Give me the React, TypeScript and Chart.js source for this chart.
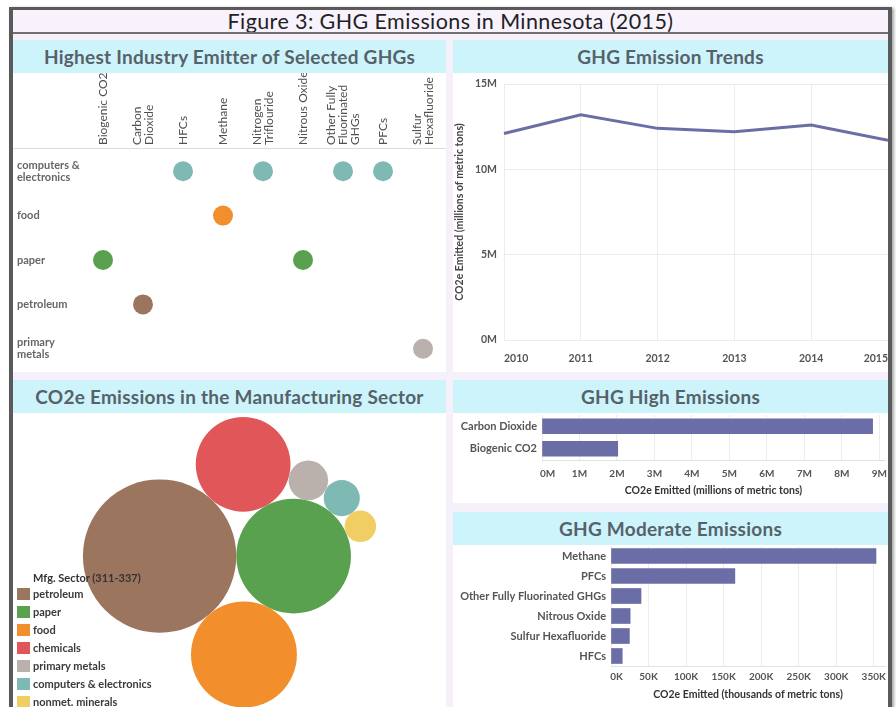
import React, { useEffect, useRef } from 'react';
import { Chart, registerables } from 'chart.js';

Chart.register(...registerables);

const FONT = 'Lato, "DejaVu Sans", sans-serif';
Chart.defaults.font.family = FONT;

// ---------- Panel 1: highest industry emitter per GHG ----------
const ghgNames = [
  'Biogenic CO2', 'Carbon Dioxide', 'HFCs', 'Methane', 'Nitrogen Triflouride',
  'Nitrous Oxide', 'Other Fully Fluorinated GHGs', 'PFCs', 'Sulfur Hexafluoride',
];
const ghgTickLines = [
  ['Biogenic CO2'], ['Carbon', 'Dioxide'], ['HFCs'], ['Methane'], ['Nitrogen', 'Triflouride'],
  ['Nitrous Oxide'], ['Other Fully', 'Fluorinated', 'GHGs'], ['PFCs'], ['Sulfur', 'Hexafluoride'],
];
const sectorRows = ['computers & electronics', 'food', 'paper', 'petroleum', 'primary metals'];
const sectorRowLines = [['computers &', 'electronics'], ['food'], ['paper'], ['petroleum'], ['primary', 'metals']];
const topEmitterSector = [
  'paper', 'petroleum', 'computers & electronics', 'food', 'computers & electronics',
  'paper', 'computers & electronics', 'computers & electronics', 'primary metals',
];

// ---------- Panel 3: manufacturing sectors (millions of metric tons CO2e) ----------
const sectorNames = ['petroleum', 'paper', 'food', 'chemicals', 'primary metals', 'computers & electronics', 'nonmet. minerals'];
const sectorColors = ['#9c755f', '#59a14f', '#f28e2b', '#e15759', '#bab0ac', '#7fb9b4', '#f1ce63'];
const sectorCO2e = [4.51, 2.52, 2.15, 1.72, 0.3, 0.25, 0.19];
// packing chain: [tangentTo, tangentTo, side] for sectors 3..7
const packOrder = [[0, 1, 1], [0, 1, -1], [3, 1, -1], [4, 1, -1], [5, 1, -1]];

// ---------- Panel 2: trend (millions of metric tons) ----------
const trendYears = ['2010', '2011', '2012', '2013', '2014', '2015'];
const trendValues = [12.1, 13.2, 12.4, 12.2, 12.6, 11.7];

// ---------- Panel 4: high emissions (millions) ----------
const highGases = ['Carbon Dioxide', 'Biogenic CO2'];
const highValues = [8.82, 2.02];

// ---------- Panel 5: moderate emissions (thousands) ----------
const moderateGases = ['Methane', 'PFCs', 'Other Fully Fluorinated GHGs', 'Nitrous Oxide', 'Sulfur Hexafluoride', 'HFCs'];
const moderateValues = [353, 165, 40, 25.5, 24.5, 15];

const BAR = '#6b6ea6';
const GRID = '#ececec';
const TICK = '#555';

function colorOfSector(s: string) {
  return sectorColors[sectorNames.indexOf(s)];
}

function packSectors(values: number[]) {
  const r = values.map((v) => Math.sqrt(v));
  const c: { x: number; y: number }[] = [];
  c[0] = { x: 0, y: 0 };
  c[1] = { x: r[0] + r[1], y: 0 };
  packOrder.forEach(([a, b, side], k) => {
    const i = k + 2;
    const dx = c[b].x - c[a].x;
    const dy = c[b].y - c[a].y;
    const d = Math.hypot(dx, dy);
    const da = r[a] + r[i];
    const db = r[b] + r[i];
    const t = (da * da - db * db + d * d) / (2 * d);
    const h = Math.sqrt(Math.max(0, da * da - t * t));
    c[i] = {
      x: c[a].x + (t * dx) / d + (side * h * -dy) / d,
      y: c[a].y + (t * dy) / d + (side * h * dx) / d,
    };
  });
  return { r, c };
}

const fitW = (w: number) => (s: any) => {
  s.width = w;
  s.paddingTop = 0; s.paddingBottom = 0; s.paddingLeft = 0; s.paddingRight = 0;
};
const fitH = (h: number) => (s: any) => {
  s.height = h;
  s.paddingTop = 0; s.paddingBottom = 0; s.paddingLeft = 0; s.paddingRight = 0;
};

function ChartBox(props: { left: number; top: number; width: number; height: number; make: () => any }) {
  const ref = useRef<HTMLCanvasElement>(null);
  useEffect(() => {
    const chart = new Chart(ref.current as HTMLCanvasElement, props.make());
    return () => chart.destroy();
  }, []);
  return (
    <canvas
      ref={ref}
      width={props.width}
      height={props.height}
      style={{ position: 'absolute', left: props.left, top: props.top, width: props.width, height: props.height }}
    />
  );
}

const baseOpts = {
  animation: false,
  responsive: false,
  maintainAspectRatio: false,
  events: [],
  plugins: { legend: { display: false }, tooltip: { enabled: false } },
};

// rotated column headers of the GHG matrix, centred on each category tick
const columnHeaderPlugin = {
  id: 'columnHeaders',
  afterDraw(chart: any) {
    const xs = chart.scales.x;
    const ctx = chart.ctx;
    const base = chart.chartArea.top - 4;
    const lh = 12;
    ctx.save();
    ctx.font = `12px ${FONT}`;
    ctx.fillStyle = '#505050';
    ctx.textAlign = 'left';
    ctx.textBaseline = 'middle';
    ghgTickLines.forEach((lines, i) => {
      const px = xs.getPixelForValue(i);
      lines.forEach((t, j) => {
        const off = (j - (lines.length - 1) / 2) * lh;
        ctx.save();
        ctx.translate(px + off, base);
        ctx.rotate(-Math.PI / 2);
        ctx.fillText(t, 0, 0);
        ctx.restore();
      });
    });
    ctx.restore();
  },
};

function dotConfig() {
  return {
    type: 'scatter',
    data: {
      datasets: [
        {
          data: ghgNames.map((g, i) => ({ x: g, y: topEmitterSector[i] })),
          pointRadius: 10,
          pointHoverRadius: 10,
          borderWidth: 0,
          backgroundColor: topEmitterSector.map(colorOfSector),
          clip: false,
        },
      ],
    },
    plugins: [columnHeaderPlugin],
    options: {
      ...baseOpts,
      layout: { autoPadding: false, padding: { left: 4, right: 3, top: 76, bottom: 1 } },
      scales: {
        x: {
          type: 'category',
          labels: ghgNames,
          display: false,
          offset: true,
        },
        y: {
          type: 'category',
          labels: sectorRows,
          offset: true,
          grid: { display: false, drawTicks: false },
          border: { display: false },
          ticks: {
            crossAlign: 'far',
            color: '#666',
            font: { size: 11, weight: 'bold', lineHeight: 1.1 },
            callback: (_v: any, i: number) => sectorRowLines[i],
          },
          afterFit: fitW(66),
        },
      },
    },
  };
}

function trendConfig() {
  return {
    type: 'line',
    data: {
      labels: trendYears,
      datasets: [{ data: trendValues, borderColor: BAR, borderWidth: 3, pointRadius: 0, tension: 0, fill: false, clip: false }],
    },
    options: {
      ...baseOpts,
      layout: { autoPadding: false, padding: { top: 11, right: 0, left: 0, bottom: 0 } },
      scales: {
        x: {
          offset: false,
          grid: { color: GRID, drawTicks: false },
          border: { display: false },
          ticks: { align: 'inner', padding: 12, color: TICK, font: { size: 10.5, weight: 'bold' } },
          afterFit: fitH(32),
        },
        y: {
          min: 0,
          max: 15,
          grid: { color: GRID, drawTicks: false },
          border: { display: false },
          ticks: { stepSize: 5, padding: 7, color: TICK, font: { size: 10.5, weight: 'bold' }, callback: (v: any) => v + 'M' },
          title: {
            display: true,
            text: 'CO2e Emitted (millions of metric tons)',
            color: '#444',
            font: { size: 10.5, weight: 'bold' },
            padding: { top: 0, bottom: 0 },
          },
          afterFit: fitW(51),
        },
      },
    },
  };
}

function barConfig(labels: string[], values: number[], max: number, step: number, unit: string, title: string,
  leftW: number, axisH: number, padTop: number, tickPad: number) {
  return {
    type: 'bar',
    data: {
      labels,
      datasets: [{ data: values, backgroundColor: BAR, barThickness: 15 }],
    },
    options: {
      ...baseOpts,
      indexAxis: 'y',
      layout: { autoPadding: false, padding: { top: padTop, right: 3, left: 0, bottom: 0 } },
      scales: {
        x: {
          min: 0,
          max,
          grid: { color: GRID, drawTicks: false },
          border: { color: '#e2e2e2' },
          ticks: {
            stepSize: step,
            includeBounds: false,
            padding: tickPad,
            color: TICK,
            font: { size: 10, weight: 'bold' },
            // first label sits to the right of the zero line
            callback: (v: any) => (v === 0 ? '\u2002\u2002\u2009' : '') + v + unit,
          },
          title: {
            display: true,
            text: title,
            color: '#333',
            font: { size: 10.5, weight: 'bold' },
            padding: { top: 0, bottom: 6 },
          },
          afterFit: fitH(axisH),
        },
        y: {
          grid: { display: false, drawTicks: false },
          border: { display: false },
          ticks: { padding: 5, color: TICK, font: { size: 11, weight: 'bold' } },
          afterFit: fitW(leftW),
        },
      },
    },
  };
}

function bubbleConfig(W: number, H: number) {
  const { r, c } = packSectors(sectorCO2e);
  let minX = Infinity, maxX = -Infinity, minY = Infinity, maxY = -Infinity;
  c.forEach((p, i) => {
    minX = Math.min(minX, p.x - r[i]);
    maxX = Math.max(maxX, p.x + r[i]);
    minY = Math.min(minY, p.y - r[i]);
    maxY = Math.max(maxY, p.y + r[i]);
  });
  const s = (H - 3.5) / (maxY - minY);
  const midX = ((minX + maxX) / 2) * s;
  const yTop = minY * s - 4;
  return {
    type: 'bubble',
    data: {
      datasets: [
        {
          data: c.map((p, i) => ({ x: p.x * s, y: p.y * s, r: r[i] * s })),
          backgroundColor: sectorColors,
          borderWidth: 0,
          hoverRadius: 0,
          clip: false,
        },
      ],
    },
    options: {
      ...baseOpts,
      layout: { autoPadding: false, padding: 0 },
      scales: {
        x: { display: false, min: midX - W / 2, max: midX + W / 2 },
        y: { display: false, reverse: true, min: yTop, max: yTop + H },
      },
    },
  };
}

const HEADER_BG = '#cdf4fb';
const LAV = '#f6f0fb';

function Header(props: { left: number; top: number; width: number; text: string }) {
  return (
    <div
      style={{
        position: 'absolute', left: props.left, top: props.top, width: props.width, height: 33,
        background: HEADER_BG, color: '#56626a', font: `bold 19px ${FONT}`, lineHeight: '33px',
        letterSpacing: '0.25px', textAlign: 'center', whiteSpace: 'nowrap',
      }}
    >
      {props.text}
    </div>
  );
}

function Body(props: { left: number; top: number; width: number; height: number }) {
  return <div style={{ position: 'absolute', left: props.left, top: props.top, width: props.width, height: props.height, background: '#fff' }} />;
}

export default function App() {
  return (
    <div style={{ position: 'absolute', left: 0, top: 0, width: 896, height: 707, overflow: 'hidden', background: '#fff', fontFamily: FONT }}>
      {/* frame */}
      <div
        style={{
          position: 'absolute', left: 9, top: 7, width: 883, height: 720, boxSizing: 'border-box',
          borderLeft: '4px solid #5a5a5a', borderRight: '4px solid #5a5a5a', borderTop: '3px solid #5a5a5a',
          background: LAV, boxShadow: '2px 1px 3px rgba(0,0,0,0.35)',
        }}
      />
      <div style={{ position: 'absolute', left: 13, top: 10, width: 875, height: 22, background: '#f8f2fd' }} />
      <div
        style={{
          position: 'absolute', left: 13, top: 9, width: 875, height: 24, textAlign: 'center',
          font: `21.5px ${FONT}`, lineHeight: '24px', letterSpacing: '0.4px', color: '#222', whiteSpace: 'nowrap',
        }}
      >
        Figure 3: GHG Emissions in Minnesota (2015)
      </div>
      <div style={{ position: 'absolute', left: 13, top: 32, width: 875, height: 2, background: '#707070' }} />

      {/* panel 1 */}
      <Header left={13} top={40} width={433} text="Highest Industry Emitter of Selected GHGs" />
      <Body left={13} top={73} width={433} height={299} />
      <div style={{ position: 'absolute', left: 13, top: 148, width: 433, height: 1, background: '#dcdcdc' }} />
      <ChartBox left={13} top={73} width={433} height={299} make={dotConfig} />

      {/* panel 2 */}
      <Header left={453} top={40} width={435} text="GHG Emission Trends" />
      <Body left={453} top={73} width={435} height={299} />
      <ChartBox left={453} top={73} width={435} height={299} make={trendConfig} />

      {/* panel 3 */}
      <Header left={13} top={380} width={433} text="CO2e Emissions in the Manufacturing Sector" />
      <Body left={13} top={413} width={433} height={294} />
      <ChartBox left={13} top={413} width={433} height={294} make={() => bubbleConfig(433, 294)} />
      <div style={{ position: 'absolute', left: 33, top: 571, font: `bold 11px ${FONT}`, color: '#333', whiteSpace: 'nowrap' }}>
        Mfg. Sector (311-337)
      </div>
      {sectorNames.map((n, i) => (
        <div key={n} style={{ position: 'absolute', left: 17, top: 587 + i * 18, height: 14, whiteSpace: 'nowrap' }}>
          <div style={{ position: 'absolute', left: 0, top: 1, width: 13, height: 12, background: sectorColors[i] }} />
          <div style={{ position: 'absolute', left: 16, top: 0, font: `bold 11px ${FONT}`, lineHeight: '14px', color: '#3a3a3a' }}>{n}</div>
        </div>
      ))}

      {/* panel 4 */}
      <Header left={453} top={380} width={435} text="GHG High Emissions" />
      <Body left={453} top={413} width={435} height={90} />
      <ChartBox
        left={453} top={413} width={435} height={90}
        make={() => barConfig(highGases, highValues, 9.15, 1, 'M', 'CO2e Emitted (millions of metric tons)', 89, 43, 2, 8)}
      />

      {/* panel 5 */}
      <Header left={453} top={512} width={435} text="GHG Moderate Emissions" />
      <Body left={453} top={545} width={435} height={162} />
      <ChartBox
        left={453} top={545} width={435} height={162}
        make={() => barConfig(moderateGases, moderateValues, 365, 50, 'K', 'CO2e Emitted (thousands of metric tons)', 158, 41, 1, 5)}
      />
    </div>
  );
}
